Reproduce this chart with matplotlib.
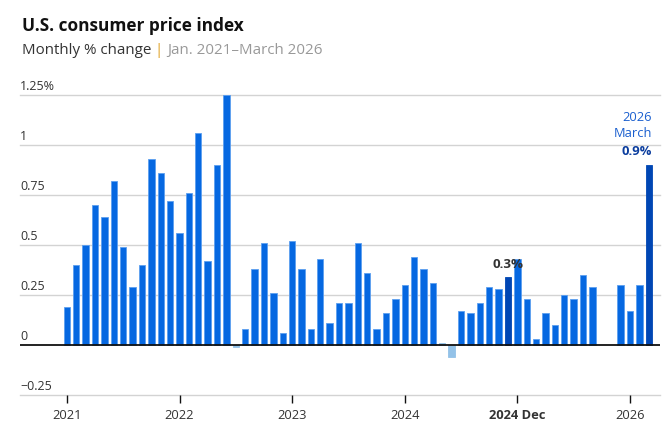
import matplotlib
matplotlib.use("Agg")
import matplotlib.pyplot as plt
import matplotlib.transforms as mtransforms
import numpy as np

plt.rcParams['font.family'] = ['Open Sans', 'DejaVu Sans']

# ---------------- data ----------------
months = [f"{y}-{m:02d}" for y in range(2021, 2027) for m in range(1, 13)][:63]
values = [
    # 2021
    0.19, 0.40, 0.50, 0.70, 0.64, 0.82, 0.49, 0.29, 0.40, 0.93, 0.86, 0.72,
    # 2022
    0.56, 0.76, 1.06, 0.42, 0.90, 1.25, -0.01, 0.08, 0.38, 0.51, 0.26, 0.06,
    # 2023
    0.52, 0.38, 0.08, 0.43, 0.11, 0.21, 0.21, 0.51, 0.36, 0.08, 0.16, 0.23,
    # 2024
    0.30, 0.44, 0.38, 0.31, 0.01, -0.06, 0.17, 0.16, 0.21, 0.29, 0.28, 0.34,
    # 2025 (Oct, Nov not published)
    0.43, 0.23, 0.03, 0.16, 0.10, 0.25, 0.23, 0.35, 0.29, None, None, 0.30,
    # 2026
    0.17, 0.30, 0.90,
]
highlight = ["2024-12", "2026-03"]
tick_months = ["2021-01", "2022-01", "2023-01", "2024-01", "2025-01", "2026-01"]
tick_labels = ["2021", "2022", "2023", "2024", "2024 Dec", "2026"]
bold_tick = "2024 Dec"
yticks = [-0.25, 0, 0.25, 0.5, 0.75, 1, 1.25]
ytick_labels = ["\u22120.25", "0", "0.25", "0.5", "0.75", "1", "1.25%"]
title = "U.S. consumer price index"
subtitle_parts = ["Monthly % change ", "| ", "Jan. 2021\u2013March 2026"]
callout_dec = "0.3%"
callout_mar = ["2026", "March", "0.9%"]

# ---------------- style ----------------
C_MAIN = "#0668e1"
C_EDGE = "#5c9ff0"
C_DARK = "#0046b4"
C_LIGHT = "#93c2e8"
C_TEXT = "#333333"

W, H = 667, 437
fig = plt.figure(figsize=(W / 100, H / 100), dpi=100)
ax = fig.add_axes([20 / W, (H - 395) / H, 640 / W, 300 / H])

x = np.arange(len(months))
for xi, m, v in zip(x, months, values):
    if v is None:
        continue
    if m in highlight:
        fc, ec = C_DARK, C_DARK
    elif v <= 0.01:
        fc, ec = C_LIGHT, C_LIGHT
    else:
        fc, ec = C_MAIN, C_EDGE
    ax.bar(xi, v, width=0.68, color=fc, edgecolor=ec, linewidth=0.6, zorder=3)

ax.set_xlim(-5.0, 63.2)
ax.set_ylim(-0.25, 1.25)

# grid lines
for yv in yticks:
    if yv == 0:
        continue
    ax.axhline(yv, color="#d3d3d3", lw=1.0, zorder=1, clip_on=False)
ax.axhline(0, color="#111111", lw=1.3, zorder=4)

for s in ax.spines.values():
    s.set_visible(False)

# y labels above grid lines
trans = mtransforms.blended_transform_factory(ax.transAxes, ax.transData)
offset = mtransforms.ScaledTranslation(0, 2 / 100, fig.dpi_scale_trans)
for yv, lab in zip(yticks, ytick_labels):
    ax.text(0, yv, lab, transform=trans + offset, ha="left", va="bottom",
            fontsize=9.0, color=C_TEXT)
ax.set_yticks([])

# x ticks
tpos = [months.index(m) for m in tick_months]
ax.set_xticks(tpos)
ax.set_xticklabels(tick_labels, fontsize=9.3, color=C_TEXT)
for lbl in ax.get_xticklabels():
    if lbl.get_text() == bold_tick:
        lbl.set_fontweight("bold")
ax.tick_params(axis="x", length=6, width=1, color="#111111", pad=4)

# callouts
i_dec = months.index("2024-12")
ax.text(i_dec, 0.40, callout_dec, ha="center", va="center", fontsize=9.6,
        fontweight="bold", color=C_TEXT, zorder=5)
i_mar = months.index("2026-03")
ax.text(i_mar + 0.35, 1.137, callout_mar[0], ha="right", va="center",
        fontsize=9.3, color="#1a5fcf", zorder=5)
ax.text(i_mar + 0.35, 1.057, callout_mar[1], ha="right", va="center",
        fontsize=9.3, color="#1a5fcf", zorder=5)
ax.text(i_mar + 0.35, 0.967, callout_mar[2], ha="right", va="center",
        fontsize=9.4, fontweight="bold", color="#0b3d9e", zorder=5)

# title / subtitle
fig.text(22 / W, 1 - 30.7 / H, title, fontsize=12.4, fontweight="bold",
         color="#111111", va="baseline", ha="left")
renderer = fig.canvas.get_renderer()
xp = 22
colors = ["#333333", "#e0a020", "#999999"]
for part, col in zip(subtitle_parts, colors):
    t = fig.text(xp / W, 1 - 54.3 / H, part, fontsize=10.9, color=col,
                 va="baseline", ha="left")
    bb = t.get_window_extent(renderer=renderer)
    xp += bb.width

fig.savefig("out.png", dpi=100)
